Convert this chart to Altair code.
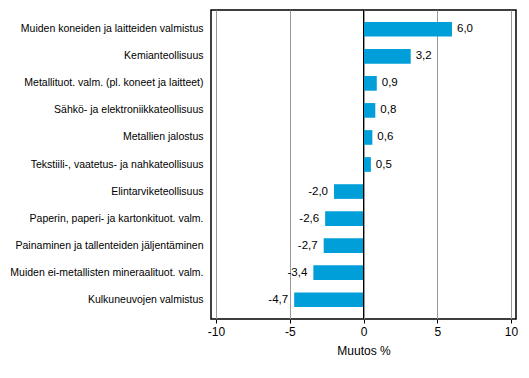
import altair as alt
import pandas as pd

categories = [
    "Muiden koneiden ja laitteiden valmistus",
    "Kemianteollisuus",
    "Metallituot. valm. (pl. koneet ja laitteet)",
    "Sähkö- ja elektroniikkateollisuus",
    "Metallien jalostus",
    "Tekstiili-, vaatetus- ja nahkateollisuus",
    "Elintarviketeollisuus",
    "Paperin, paperi- ja kartonkituot. valm.",
    "Painaminen ja tallenteiden jäljentäminen",
    "Muiden ei-metallisten mineraalituot. valm.",
    "Kulkuneuvojen valmistus",
]
values = [6.0, 3.2, 0.9, 0.8, 0.6, 0.5, -2.0, -2.6, -2.7, -3.4, -4.7]
x_ticks = [-10, -5, 0, 5, 10]

df = pd.DataFrame({
    "cat": categories,
    "val": values,
    "lbl": [f"{v:.1f}".replace(".", ",") for v in values],
})

FONT = "Liberation Sans"
xscale = alt.Scale(domain=[-10.34, 10.34], nice=False, zero=False)
yscale = alt.Scale(paddingInner=0.457, paddingOuter=0.44)

base = alt.Chart(df)

bars = base.mark_bar(color="#009FDA").encode(
    x=alt.X("val:Q", scale=xscale,
            axis=alt.Axis(values=x_ticks, title="Muutos %", grid=True,
                          gridColor="#999999", gridWidth=1,
                          labelExpr="datum.value + ''",
                          labelFont=FONT, labelFontSize=12, labelColor="#000000",
                          titleFont=FONT, titleFontSize=12, titleFontWeight="normal",
                          titleColor="#000000", titlePadding=8,
                          tickSize=4, tickColor="#000000", domain=False,
                          labelPadding=3)),
    y=alt.Y("cat:N", sort=categories, scale=yscale,
            axis=alt.Axis(title=None, ticks=False, domain=False,
                          labelFont=FONT, labelFontSize=10.5, labelColor="#000000",
                          labelPadding=8, labelLimit=300)),
)

pos = base.transform_filter("datum.val >= 0").mark_text(
    align="left", baseline="middle", dx=5, font=FONT, fontSize=11.5, color="#000000"
).encode(
    x=alt.X("val:Q", scale=xscale),
    y=alt.Y("cat:N", sort=categories, scale=yscale),
    text="lbl:N",
)
neg = base.transform_filter("datum.val < 0").mark_text(
    align="right", baseline="middle", dx=-6, font=FONT, fontSize=11.5, color="#000000"
).encode(
    x=alt.X("val:Q", scale=xscale),
    y=alt.Y("cat:N", sort=categories, scale=yscale),
    text="lbl:N",
)

zero = alt.Chart(pd.DataFrame({"z": [0]})).mark_rule(color="#000000", strokeWidth=1).encode(
    x=alt.X("z:Q", scale=xscale)
)

chart = alt.layer(bars, zero, pos, neg).properties(
    width=305, height=309,
    background="#ffffff",
    autosize=alt.AutoSizeParams(type="none"),
    padding={"left": 203, "top": 2, "right": 5, "bottom": 50},
).configure_view(stroke="#000000", strokeWidth=1.5)

chart.save("out.html", embed_options={"renderer": "svg", "actions": False})
